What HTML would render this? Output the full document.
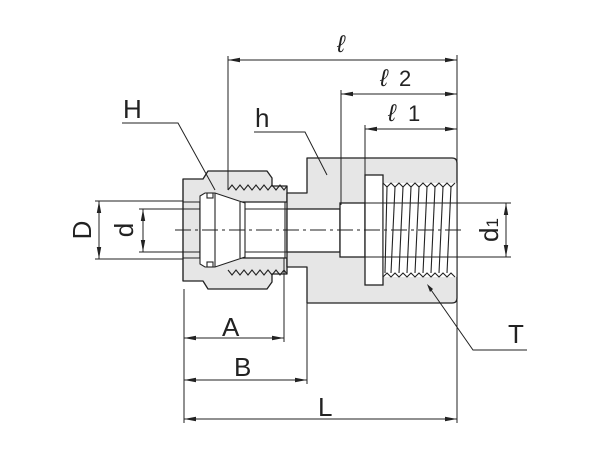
<!DOCTYPE html>
<html><head><meta charset="utf-8"><style>
html,body{margin:0;padding:0;background:#fff;}
svg{display:block;font-family:"Liberation Sans",sans-serif;}
</style></head><body>
<svg width="605" height="475" viewBox="0 0 605 475" xmlns="http://www.w3.org/2000/svg">
<defs>
<marker id="ar" viewBox="0 0 12 6" refX="12" refY="3" markerWidth="12" markerHeight="6" orient="auto-start-reverse" markerUnits="userSpaceOnUse">
<path d="M0,0.8 L12,3 L0,5.2 Z" fill="#222"/></marker>
</defs>
<g stroke="#222" stroke-width="1.3" fill="#e6e6e6" stroke-linejoin="round">
<!-- nut -->
<path d="M183,179 L203,179 L208,171 L267,171 L272,178 L272,186 L287,186 L287,202 L200,202 L200,258 L287,258 L287,274 L272,274 L272,282 L267,289 L208,289 L203,281 L183,281 Z"/>
<!-- body -->
<path d="M287,193 L307,193 L307,158 L452,158 Q457,158 457,163 L457,298 Q457,303 452,303 L307,303 L307,267 L287,267 Z"/>
</g>
<!-- interior bores (white) -->
<g fill="#fff" stroke="#222" stroke-width="1.3">
<rect x="287" y="209" width="53" height="43"/>
<rect x="340" y="203" width="25" height="54"/>
<rect x="365" y="175" width="18" height="110"/>
<rect x="383" y="183" width="74" height="94" stroke="none"/>
</g>
<g stroke="#222" stroke-width="1.1" fill="none">
<!-- tube -->
<line x1="183" y1="202" x2="287" y2="202"/><line x1="183" y1="258" x2="287" y2="258"/>
<line x1="183" y1="209" x2="287" y2="209"/><line x1="183" y1="252" x2="287" y2="252"/>
<line x1="285" y1="202" x2="285" y2="258"/>
<line x1="183" y1="179" x2="183" y2="281"/>
<!-- ferrule -->
<path d="M200,196 L205,193 L215,193 L245,203 L245,257 L215,267 L205,267 L200,264 Z" fill="#fff"/>
<line x1="215" y1="193" x2="215" y2="267"/>
<line x1="240" y1="202" x2="240" y2="258"/>
<rect x="207" y="193" width="6" height="5" fill="#fff"/>
<rect x="207" y="262" width="6" height="5" fill="#fff"/>
<!-- nut threads -->
<polyline points="228,190 232,185 236,190 240,185 244,190 248,185 252,190 256,185 260,190 264,185 268,190 272,185 276,190 280,185 284,190 287,186"/>
<polyline points="228,270 232,275 236,270 240,275 244,270 248,275 252,270 256,275 260,270 264,275 268,270 272,275 276,270 280,275 284,270 287,274"/>
<!-- female threads -->
<polyline points="383,183 387,187 391,183 395,187 399,183 403,187 407,183 411,187 415,183 419,187 423,183 427,187 431,183 435,187 439,183 443,187 447,183 451,187 455,183"/>
<polyline points="383,277 387,273 391,277 395,273 399,277 403,273 407,277 411,273 415,277 419,273 423,277 427,273 431,277 435,273 439,277 443,273 447,277 451,273 455,277"/>
<line x1="387" y1="187" x2="385" y2="273"/><line x1="395" y1="187" x2="391" y2="273"/>
<line x1="403" y1="187" x2="399" y2="273"/><line x1="411" y1="187" x2="407" y2="273"/>
<line x1="419" y1="187" x2="415" y2="273"/><line x1="427" y1="187" x2="423" y2="273"/>
<line x1="435" y1="187" x2="431" y2="273"/><line x1="443" y1="187" x2="439" y2="273"/>
<line x1="451" y1="187" x2="447" y2="273"/>
<line x1="383" y1="183" x2="383" y2="277"/>
</g>
<!-- centerline -->
<line x1="175" y1="230" x2="465" y2="230" stroke="#222" stroke-width="1.1" stroke-dasharray="16,4,3,4"/>
<g stroke="#222" stroke-width="1" fill="none">
<!-- extension lines -->
<line x1="228" y1="56" x2="228" y2="190"/>
<line x1="341" y1="90" x2="341" y2="205"/>
<line x1="365" y1="125" x2="365" y2="175"/>
<line x1="457" y1="55" x2="457" y2="423"/>
<line x1="184" y1="289" x2="184" y2="423"/>
<line x1="284" y1="258" x2="284" y2="342"/>
<line x1="307" y1="303" x2="307" y2="384"/>
<line x1="95" y1="201" x2="183" y2="201"/><line x1="95" y1="259" x2="183" y2="259"/>
<line x1="139" y1="209" x2="183" y2="209"/><line x1="139" y1="252" x2="183" y2="252"/>
<line x1="365" y1="203" x2="511" y2="203"/><line x1="365" y1="257" x2="511" y2="257"/>
<!-- dimension lines -->
<line x1="228" y1="60" x2="457" y2="60" marker-start="url(#ar)" marker-end="url(#ar)"/>
<line x1="341" y1="94" x2="457" y2="94" marker-start="url(#ar)" marker-end="url(#ar)"/>
<line x1="365" y1="129" x2="457" y2="129" marker-start="url(#ar)" marker-end="url(#ar)"/>
<line x1="184" y1="338" x2="284" y2="338" marker-start="url(#ar)" marker-end="url(#ar)"/>
<line x1="184" y1="380" x2="307" y2="380" marker-start="url(#ar)" marker-end="url(#ar)"/>
<line x1="184" y1="419" x2="457" y2="419" marker-start="url(#ar)" marker-end="url(#ar)"/>
<line x1="99" y1="201" x2="99" y2="259" marker-start="url(#ar)" marker-end="url(#ar)"/>
<line x1="143" y1="209" x2="143" y2="252" marker-start="url(#ar)" marker-end="url(#ar)"/>
<line x1="506" y1="203" x2="506" y2="257" marker-start="url(#ar)" marker-end="url(#ar)"/>
<!-- leaders -->
<polyline points="122,123 178,123 215,190"/>
<polyline points="254,132 305,132 327,175"/>
<polyline points="527,350 473,350 429,287"/>
</g>
<path d="M427,284 L433,289 L430,292 Z" fill="#222"/>
<g fill="#222" font-size="26">
<text x="123" y="118">H</text>
<text x="255" y="127">h</text>
<text x="222" y="336">A</text>
<text x="234" y="376">B</text>
<text x="318" y="416">L</text>
<text x="508" y="343">T</text>
<text x="337" y="52" font-style="italic" font-size="24">ℓ</text>
<text x="380" y="86" font-style="italic" font-size="24">ℓ</text><text x="399" y="86" font-size="22">2</text>
<text x="388" y="121" font-style="italic" font-size="24">ℓ</text><text x="408" y="121" font-size="22">1</text>
<text transform="translate(91,230) rotate(-90)" text-anchor="middle">D</text>
<text transform="translate(133,230) rotate(-90)" text-anchor="middle">d</text>
<text transform="translate(498,230) rotate(-90)" text-anchor="middle">d<tspan font-size="17">1</tspan></text>
</g>
</svg>
</body></html>
